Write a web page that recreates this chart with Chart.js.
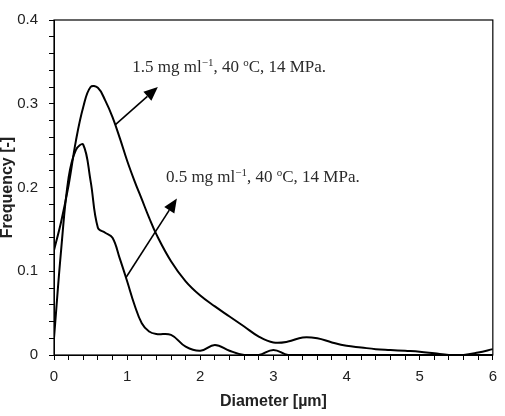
<!DOCTYPE html>
<html>
<head>
<meta charset="utf-8">
<script src="https://cdn.jsdelivr.net/npm/chart.js@4.4.1/dist/chart.umd.min.js"></script>
<style>
  html, body { margin: 0; padding: 0; background: #fff; }
  #wrap { width: 505px; height: 416px; }
</style>
</head>
<body>
<div id="wrap"><canvas id="chart" width="505" height="416"></canvas></div>
<script>
// diameters in um (finer steps around the peaks)
const diameter = [0, 0.1, 0.2, 0.3, 0.4, 0.5, 0.6, 0.7, 0.8, 0.9, 1.0, 1.1, 1.2, 1.3, 1.4,
    1.6, 1.8, 2.0, 2.2, 2.4, 2.6, 2.8, 3.0, 3.2, 3.4, 3.6, 3.8, 4.0, 4.2, 4.4, 4.6, 4.8,
    5.0, 5.2, 5.4, 5.6, 5.8, 6.0];

// 1.5 mg/ml
const freq15 = [0.125, 0.160, 0.203, 0.256, 0.296, 0.320, 0.319, 0.304, 0.284, 0.259, 0.232,
    0.208, 0.186, 0.164, 0.144,
    0.112, 0.088, 0.071, 0.058, 0.046, 0.034, 0.022, 0.015, 0.016, 0.021, 0.020, 0.015,
    0.011, 0.009, 0.007, 0.006, 0.005, 0.004, 0.002, 0.000, 0.000, 0.003, 0.007];

// 0.5 mg/ml
const freq05 = [0.020, 0.128, 0.212, 0.245, 0.251, 0.208, 0.152, 0.146, 0.140, 0.115, 0.088,
    0.060, 0.038, 0.028, 0.025,
    0.024, 0.010, 0.005, 0.012, 0.005, 0.000, 0.000, 0.006, 0.000, 0.000, 0.000, 0.000,
    0.000, 0.000, 0.000, 0.000, 0.000, 0.000, 0.000, 0.000, 0.000, 0.000, 0.000];

const xTickLabels = [0, 1, 2, 3, 4, 5, 6];
const yTickLabels = [0, 0.1, 0.2, 0.3, 0.4];

const notes = [
    { at: [1.07, 0.338], from: [0.84, 0.275], to: [1.42, 0.320],
      parts: [['1.5 mg ml'], ['\u22121', 1], [', 40 '], ['o', 1], ['C, 14 MPa.']] },
    { at: [1.53, 0.207], from: [0.98, 0.092], to: [1.68, 0.187],
      parts: [['0.5 mg ml'], ['\u22121', 1], [', 40 '], ['o', 1], ['C, 14 MPa.']] }
];

function toPoints(ys) {
    return ys.map((y, i) => ({ x: diameter[i], y: y }));
}

function hasTick(list, v) {
    return list.some(t => Math.abs(t - v) < 1e-6);
}

const framePlugin = {
    id: 'frame',
    afterDraw(chart) {
        const { ctx, chartArea: a, scales } = chart;
        ctx.save();
        ctx.strokeStyle = '#000';
        ctx.lineWidth = 1.2;
        ctx.strokeRect(a.left, a.top, a.right - a.left, a.bottom - a.top);

        notes.forEach(n => {
            const x1 = scales.x.getPixelForValue(n.from[0]), y1 = scales.y.getPixelForValue(n.from[1]);
            const x2 = scales.x.getPixelForValue(n.to[0]), y2 = scales.y.getPixelForValue(n.to[1]);
            const ang = Math.atan2(y2 - y1, x2 - x1);
            const hl = 14, hw = 6;
            const bx = x2 - hl * Math.cos(ang), by = y2 - hl * Math.sin(ang);
            ctx.lineWidth = 1.6;
            ctx.beginPath();
            ctx.moveTo(x1, y1);
            ctx.lineTo(bx, by);
            ctx.stroke();
            ctx.fillStyle = '#000';
            ctx.beginPath();
            ctx.moveTo(x2, y2);
            ctx.lineTo(bx + hw * Math.sin(ang), by - hw * Math.cos(ang));
            ctx.lineTo(bx - hw * Math.sin(ang), by + hw * Math.cos(ang));
            ctx.closePath();
            ctx.fill();

            let cx = scales.x.getPixelForValue(n.at[0]);
            const cy = scales.y.getPixelForValue(n.at[1]);
            ctx.fillStyle = '#2a2a2a';
            ctx.textBaseline = 'alphabetic';
            ctx.textAlign = 'left';
            n.parts.forEach(p => {
                ctx.font = p[1] ? '11px "Liberation Serif", serif' : '17px "Liberation Serif", serif';
                ctx.fillText(p[0], cx, p[1] ? cy - 6 : cy);
                cx += ctx.measureText(p[0]).width;
            });
        });
        ctx.restore();
    }
};

Chart.defaults.font.family = '"Liberation Sans", Arial, sans-serif';
Chart.defaults.color = '#222';

const ctx = document.getElementById('chart').getContext('2d');
const chart = new Chart(ctx, {
    type: 'line',
    data: {
        datasets: [{
                label: '1.5 mg/ml',
                data: toPoints(freq15),
                borderColor: '#000',
                borderWidth: 2,
                pointRadius: 0,
                tension: 0.4,
                fill: false
            },
            {
                label: '0.5 mg/ml',
                data: toPoints(freq05),
                borderColor: '#000',
                borderWidth: 2,
                pointRadius: 0,
                tension: 0.4,
                fill: false
            }
        ]
    },
    options: {
        responsive: false,
        animation: false,
        layout: { padding: { left: 0, right: 7, top: 13, bottom: 0 } },
        plugins: { legend: { display: false }, tooltip: { enabled: false } },
        scales: {
            x: {
                type: 'linear',
                min: 0,
                max: 6,
                afterFit: s => { s.height = 61; },
                ticks: {
                    stepSize: 0.2,
                    autoSkip: false,
                    maxRotation: 0,
                    padding: 8,
                    font: { size: 15 },
                    callback: v => hasTick(xTickLabels, v) ? String(Math.round(v)) : ''
                },
                grid: { drawOnChartArea: false, tickLength: 5, color: '#000', tickWidth: 1 },
                border: { color: '#000', width: 1 },
                title: {
                    display: true,
                    text: 'Diameter [\u00b5m]',
                    font: { size: 16, weight: 'bold' },
                    color: '#222',
                    padding: { top: 0, bottom: 5 }
                }
            },
            y: {
                min: 0,
                max: 0.4,
                afterFit: s => { s.width = 54; },
                ticks: {
                    stepSize: 0.02,
                    autoSkip: false,
                    padding: 11,
                    font: { size: 15 },
                    callback: v => hasTick(yTickLabels, v) ? (Math.round(v * 10) === 0 ? '0' : (Math.round(v * 10) / 10).toString()) : ''
                },
                grid: { drawOnChartArea: false, tickLength: 5, color: '#000', tickWidth: 1 },
                border: { color: '#000', width: 1 },
                title: {
                    display: true,
                    text: 'Frequency [-]',
                    font: { size: 16, weight: 'bold' },
                    color: '#222',
                    padding: { top: -2, bottom: 0 }
                }
            }
        }
    },
    plugins: [framePlugin]
});
</script>
</body>
</html>
